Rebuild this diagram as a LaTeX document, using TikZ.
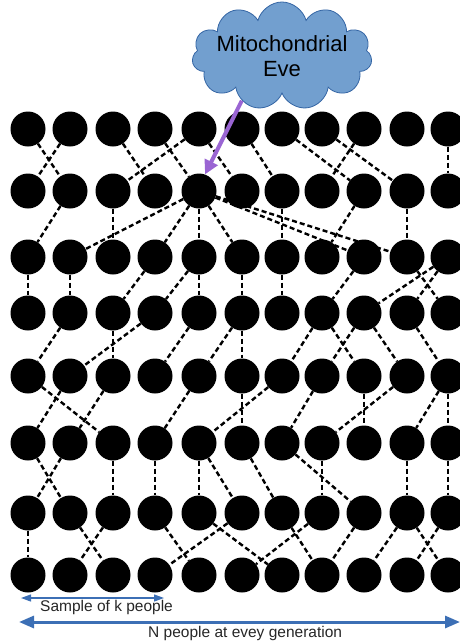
\documentclass[tikz,border=0pt]{standalone}
\usepackage{fontspec}
\setmainfont{Liberation Sans}
\usetikzlibrary{arrows.meta,shapes.symbols}
\definecolor{cloudfill}{HTML}{729FCF}
\definecolor{cloudline}{HTML}{3465A4}
\definecolor{evepurple}{HTML}{9A65D3}
\definecolor{spanblue}{HTML}{3C6FB5}

\begin{document}
\begin{tikzpicture}[
  x=1pt, y=-1pt,
  person/.style={circle, fill=black, minimum size=35pt, inner sep=0pt},
  link/.style={line width=2.4pt, dash pattern=on 5pt off 3pt},
  bubble/.style={cloud, cloud puffs=11, cloud ignores aspect, draw=cloudline, fill=cloudfill,
                 line width=0.8pt, minimum width=180pt, minimum height=108pt,
                 inner xsep=-14pt, inner ysep=0pt, align=center,
                 font=\fontsize{22}{25}\selectfont},
  pointer/.style={-{Triangle[length=14pt,width=14pt]}, line width=4pt, evepurple},
  span/.style={{Triangle[length=10pt,width=7pt]}-{Triangle[length=10pt,width=7pt]},
               line width=1.2pt, spanblue},
  wide/.style={{Triangle[length=15pt,width=12pt]}-{Triangle[length=15pt,width=12pt]},
               line width=3pt, spanblue},
  note/.style={anchor=base west, inner sep=0pt, text=black!85,
               font=\fontsize{15.5}{18}\selectfont}
]
\useasboundingbox (0,0) rectangle (460,643);

\foreach \y [count=\r] in {129,191,257,313,376,443,513,575}
  \foreach \x [count=\c] in {28,70,113,155,199,242,282,322,364,407,448}
    \node[person] (p-\r-\c) at (\x,\y) {};

% parent/child pairs between generation r and r+1
\foreach \r/\kids in {
  1/{1/2,2/1,3/4,4/5,5/3,5/6,6/7,7/9,8/10,9/8,11/11},
  2/{2/1,3/3,5/2,5/4,5/5,5/6,5/9,5/10,7/7,9/8,10/10},
  3/{1/1,2/2,4/3,5/4,5/5,6/6,7/7,9/8,11/9,11/10,10/11},
  4/{2/1,3/3,4/2,5/4,6/5,6/6,8/7,8/9,9/8,9/10,10/11},
  5/{1/3,2/1,3/2,5/4,7/5,6/6,8/7,9/9,10/8,11/10,11/11},
  6/{1/2,2/1,3/3,4/4,5/5,5/6,6/7,7/9,8/8,10/10,11/11},
  7/{1/1,2/3,3/2,4/5,6/4,5/7,8/6,7/8,9/8,10/9,10/11,11/10}}
{
  \pgfmathtruncatemacro\n{\r+1}
  \foreach \a/\b in \kids
    \draw[link] (p-\r-\a) -- (p-\n-\b);
}

\node[bubble] (cloud) at (282,56) {Mitochondrial\\Eve};
\draw[pointer] (cloud.228) -- (p-2-5.70);

\coordinate (kleft) at (21,598);
\coordinate (kright) at (164,598);
\draw[span] (kleft) -- (kright);
\node[note] (ksample) at (40,611) {Sample of k people};

\coordinate (nleft) at (19,622);
\coordinate (nright) at (460,622);
\draw[wide] (nleft) -- (nright);
\node[note] (npeople) at (148,637) {N people at evey generation};
\end{tikzpicture}
\end{document}
